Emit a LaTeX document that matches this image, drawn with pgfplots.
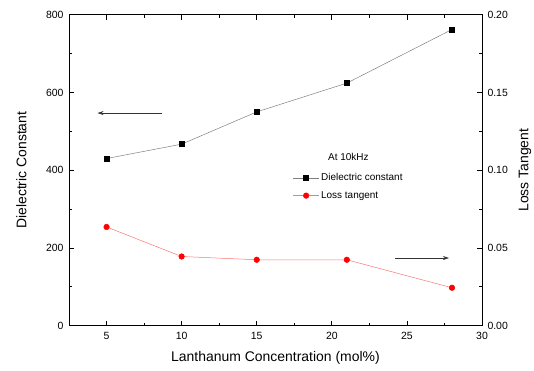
\documentclass[border=0pt]{standalone}
\usepackage{fontspec}
\setmainfont{Liberation Sans}
\usepackage{pgfplots}
\pgfplotsset{compat=1.18}
\usetikzlibrary{arrows.meta}
\begin{document}
\begin{tikzpicture}
\useasboundingbox (-69bp,-45.3bp) rectangle (465bp,325.7bp);
\pgfplotsset{
  every axis/.append style={
    scale only axis, width=413bp, height=311bp,
    xmin=2.5, xmax=30,
    /pgf/number format/assume math mode=true,
    tick label style={font=\fontsize{10.5}{12}\selectfont},
    axis line style={line width=1pt},
    major tick length=5bp, minor tick length=3bp,
    every tick/.style={line width=0.7pt, black},
    tick align=inside,
  }
}
\begin{axis}[
  ymin=0, ymax=800,
  xtick={5,10,15,20,25,30}, minor x tick num=1,
  ytick={0,200,400,600,800}, minor y tick num=1,
  xtick pos=both, ytick pos=left,
  xlabel={Lanthanum Concentration (mol\%)},
  ylabel={Dielectric Constant},
  every axis x label/.style={at={(axis description cs:0.5,-0.104)}, anchor=center, font=\fontsize{14}{16}\selectfont},
  every axis y label/.style={at={(axis description cs:-0.115,0.5)}, rotate=90, anchor=center, font=\fontsize{14}{16}\selectfont},
  xticklabel style={yshift=-3bp},
  yticklabel style={xshift=-2bp},
]
\addplot[color=gray, line width=0.5pt, mark=square*, mark size=2.6pt,
  mark options={fill=black, draw=black}] coordinates {
  (5,430) (10,467) (15,550) (21,624) (28,762)
};
\draw[line width=0.6pt, black!80, -{Stealth[length=6bp,width=4bp]}] (axis cs:8.7,547) -- (axis cs:4.4,547);
\draw[line width=0.6pt, black!80, -{Stealth[length=6bp,width=4bp]}] (axis cs:24.2,174) -- (axis cs:27.8,174);
\node[font=\fontsize{10}{12}\selectfont] at (axis cs:21.1,434) {At 10kHz};
\end{axis}
\begin{axis}[
  ymin=0, ymax=0.2,
  xtick=\empty,
  axis x line=none,
  axis y line*=right,
  ytick={0,0.05,0.10,0.15,0.20}, minor y tick num=1,
  ytick pos=right,
  yticklabel style={/pgf/number format/fixed, /pgf/number format/fixed zerofill, /pgf/number format/precision=2, xshift=2bp},
  scaled y ticks=false,
  ylabel={Loss Tangent},
  every axis y label/.style={at={(axis description cs:1.104,0.5)}, rotate=90, anchor=center, font=\fontsize{14}{16}\selectfont},
  legend style={at={(axis description cs:0.535,0.502)}, anchor=north west, draw=none, fill=none,
    font=\fontsize{10}{12}\selectfont, row sep=5bp},
  legend cell align=left,
  legend image code/.code={\draw[mark repeat=2,mark phase=2] plot coordinates {(0cm,0cm) (0.45cm,0cm) (0.9cm,0cm)};},
]
\addlegendimage{color=gray, line width=0.5pt, mark=square*, mark size=2.6pt, mark options={fill=black, draw=black}}
\addlegendentry{Dielectric constant}
\addplot[color=red!55, line width=0.5pt, mark=*, mark size=2.8pt,
  mark options={fill=red, draw=red}] coordinates {
  (5,0.0635) (10,0.0445) (15,0.0424) (21,0.0424) (28,0.0244)
};
\addlegendentry{Loss tangent}
\end{axis}
\end{tikzpicture}
\end{document}
